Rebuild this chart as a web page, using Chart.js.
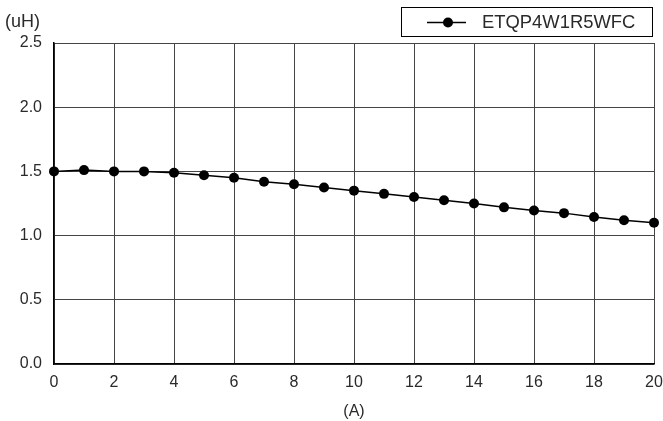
<!DOCTYPE html>
<html><head><meta charset="utf-8">
<script src="https://cdn.jsdelivr.net/npm/chart.js@4"></script>
<style>html,body{margin:0;padding:0;background:#fff}#wrap{width:663px;height:421px}</style>
</head><body><div id="wrap"><canvas id="c" width="663" height="421"></canvas></div>
<script>
const seriesName = 'ETQP4W1R5WFC';
const currentA = [0,1,2,3,4,5,6,7,8,9,10,11,12,13,14,15,16,17,18,19,20];
const inductanceUH = [1.50,1.51,1.50,1.50,1.49,1.47,1.45,1.42,1.40,1.375,1.35,1.325,1.30,1.275,1.25,1.22,1.195,1.175,1.145,1.12,1.10];
const yUnit = '(uH)';
const xUnit = '(A)';
const FONT = '"Liberation Sans", Arial, sans-serif';
const TXT = '#2a2a2a';

const extras = {
  id: 'extras',
  afterDraw(chart) {
    const ctx = chart.ctx;
    ctx.save();
    ctx.fillStyle = TXT;
    ctx.font = '18px ' + FONT;
    ctx.textBaseline = 'middle';
    ctx.textAlign = 'left';
    ctx.fillText(yUnit, 5, 22);
    // legend
    const bx = 401, by = 7, bw = 251, bh = 29;
    ctx.fillStyle = '#fff';
    ctx.fillRect(bx, by, bw, bh);
    ctx.strokeStyle = '#000';
    ctx.lineWidth = 1;
    ctx.strokeRect(bx + 0.5, by + 0.5, bw, bh);
    const cy = 22.5;
    ctx.beginPath();
    ctx.moveTo(427, cy); ctx.lineTo(466, cy);
    ctx.lineWidth = 1.5; ctx.stroke();
    ctx.beginPath(); ctx.arc(448, cy, 5, 0, Math.PI * 2); ctx.fillStyle = '#000'; ctx.fill();
    ctx.fillStyle = TXT;
    ctx.font = '18.4px ' + FONT;
    ctx.fillText(chart.data.datasets[0].label, 482, cy + 0.5);
    ctx.restore();
  }
};

new Chart(document.getElementById('c'), {
  type: 'line',
  data: {
    datasets: [{
      label: seriesName,
      data: currentA.map((x, i) => ({ x, y: inductanceUH[i] })),
      borderColor: '#000',
      backgroundColor: '#000',
      borderWidth: 1.5,
      pointRadius: 5,
      pointBackgroundColor: '#000',
      pointBorderWidth: 0,
      tension: 0,
      clip: false
    }]
  },
  options: {
    responsive: false,
    animation: false,
    events: [],
    layout: { padding: { top: 43, right: 0, left: 0, bottom: 0 } },
    plugins: { legend: { display: false }, tooltip: { enabled: false } },
    scales: {
      x: {
        type: 'linear', min: 0, max: 20,
        afterFit: s => { s.height = 57; s.paddingRight = 9; s.paddingLeft = 0; },
        ticks: { stepSize: 2, padding: 9, color: TXT, font: { family: FONT, size: 16 } },
        grid: { color: '#444', lineWidth: 1, drawTicks: false },
        border: { color: '#000', width: 1.5 },
        title: { display: true, text: xUnit, color: TXT, font: { family: FONT, size: 16 }, padding: { top: 4, bottom: 0 } }
      },
      y: {
        min: 0, max: 2.5,
        afterFit: s => { s.width = 54; },
        ticks: { stepSize: 0.5, padding: 12, color: TXT, font: { family: FONT, size: 16 }, callback: v => v.toFixed(1) },
        grid: { color: '#444', lineWidth: 1, drawTicks: false },
        border: { color: '#000', width: 1.5 }
      }
    }
  },
  plugins: [extras]
});
</script>
</body></html>
